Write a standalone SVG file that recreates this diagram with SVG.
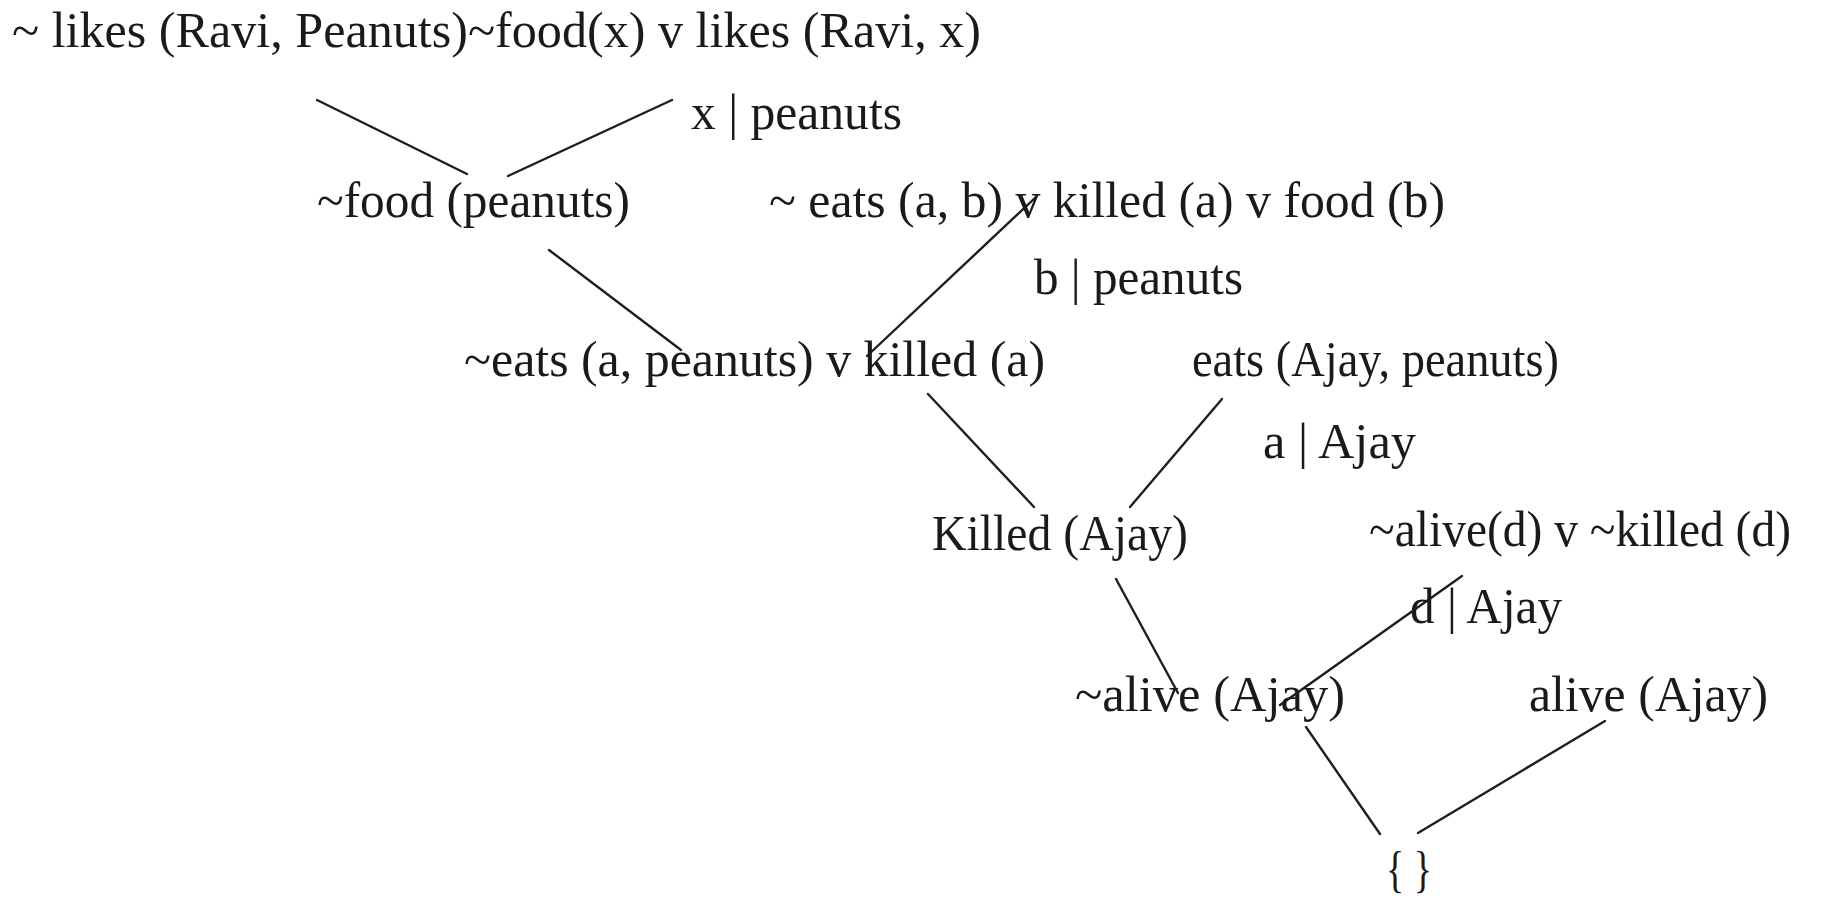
<svg xmlns="http://www.w3.org/2000/svg" width="1842" height="901" viewBox="0 0 1842 901">
<style>
text{font-family:"Liberation Serif","Times New Roman",serif;font-size:50px;fill:#1a1a1a}
.c line{stroke:#1e1e1e;stroke-width:2.4;stroke-linecap:round}
</style>
<rect width="1842" height="901" fill="#ffffff"/>
<g class="c" id="connectors">
<line x1="317" y1="100" x2="467" y2="174"/>
<line x1="672" y1="100" x2="508" y2="176"/>
<line x1="549" y1="250" x2="681" y2="350"/>
<line x1="1036" y1="197" x2="867" y2="356"/>
<line x1="928" y1="394" x2="1034" y2="507"/>
<line x1="1222" y1="399" x2="1130" y2="507"/>
<line x1="1116" y1="579" x2="1178" y2="693"/>
<line x1="1462" y1="576" x2="1280" y2="705"/>
<line x1="1306" y1="727" x2="1380" y2="834"/>
<line x1="1605" y1="721" x2="1418" y2="833"/>
</g>
<g id="n1"><text x="12" y="47" textLength="969" lengthAdjust="spacingAndGlyphs">~ likes (Ravi, Peanuts)~food(x) v likes (Ravi, x)</text></g>
<g id="l1"><text x="691" y="129" textLength="211" lengthAdjust="spacingAndGlyphs">x | peanuts</text></g>
<g id="n2"><text x="317" y="217" textLength="313" lengthAdjust="spacingAndGlyphs">~food (peanuts)</text></g>
<g id="n3"><text x="769" y="217" textLength="676" lengthAdjust="spacingAndGlyphs">~ eats (a, b) v killed (a) v food (b)</text></g>
<g id="l2"><text x="1034" y="294" textLength="209" lengthAdjust="spacingAndGlyphs">b | peanuts</text></g>
<g id="n4"><text x="464" y="376" textLength="581" lengthAdjust="spacingAndGlyphs">~eats (a, peanuts) v killed (a)</text></g>
<g id="n5"><text x="1192" y="376" textLength="367" lengthAdjust="spacingAndGlyphs">eats (Ajay, peanuts)</text></g>
<g id="l3"><text x="1263" y="458" textLength="153" lengthAdjust="spacingAndGlyphs">a | Ajay</text></g>
<g id="n6"><text x="932" y="550" textLength="256" lengthAdjust="spacingAndGlyphs">Killed (Ajay)</text></g>
<g id="n7"><text x="1369" y="546" textLength="422" lengthAdjust="spacingAndGlyphs">~alive(d) v ~killed (d)</text></g>
<g id="l4"><text x="1410" y="623" textLength="152" lengthAdjust="spacingAndGlyphs">d | Ajay</text></g>
<g id="n8"><text x="1075" y="711" textLength="270" lengthAdjust="spacingAndGlyphs">~alive (Ajay)</text></g>
<g id="n9"><text x="1529" y="711" textLength="239" lengthAdjust="spacingAndGlyphs">alive (Ajay)</text></g>
<g id="n10"><text x="1386" y="886" textLength="46" lengthAdjust="spacingAndGlyphs">{ }</text></g>
</svg>
